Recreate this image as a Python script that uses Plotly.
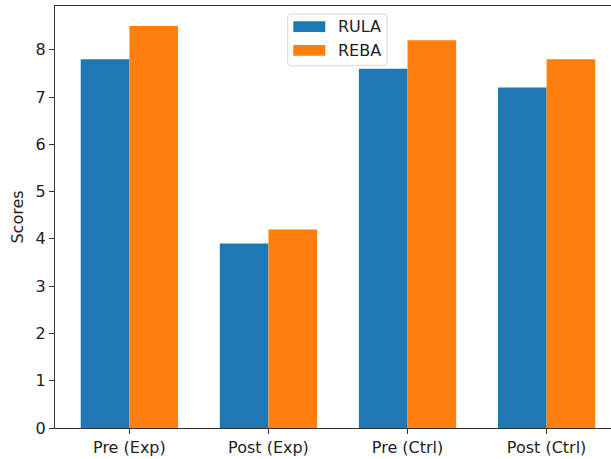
import plotly.graph_objects as go

# Posture assessment scores per group/phase
categories = ["Pre (Exp)", "Post (Exp)", "Pre (Ctrl)", "Post (Ctrl)"]
rula_scores = [7.8, 3.9, 7.6, 7.2]
reba_scores = [8.5, 4.2, 8.2, 7.8]
y_ticks = [0, 1, 2, 3, 4, 5, 6, 7, 8]

BLUE = "#1f77b4"
ORANGE = "#ff7f0e"
FONT = "DejaVu Sans"
FSIZE = 16
TXT = "#222222"
BAR_W = 0.35

# full canvas is a little wider than the visible page; the right spine sits past the edge
W, H = 621, 459
L, R, T, B = 55, 0, 6, 31
plot_w = W - L - R
plot_h = H - T - B
x_idx = list(range(len(categories)))

fig = go.Figure()
fig.add_trace(go.Bar(x=x_idx, y=rula_scores, name="RULA", width=BAR_W, offset=-BAR_W,
                     marker=dict(color=BLUE, line=dict(width=0)), showlegend=False))
fig.add_trace(go.Bar(x=x_idx, y=reba_scores, name="REBA", width=BAR_W, offset=0,
                     marker=dict(color=ORANGE, line=dict(width=0)), showlegend=False))

# matplotlib-like 5% margins on the x data span
pad = 0.05 * (len(categories) - 1 + 2 * BAR_W)
x_lo = -BAR_W - pad
x_hi = len(categories) - 1 + BAR_W + pad
y_hi = max(reba_scores + rula_scores) * 1.05

axis_col = "#333333"
fig.update_layout(
    width=W, height=H,
    margin=dict(l=L, r=R, t=T, b=B, pad=0),
    plot_bgcolor="white", paper_bgcolor="white",
    barmode="overlay",
    font=dict(family=FONT, size=FSIZE, color=TXT),
    xaxis=dict(range=[x_lo, x_hi], tickmode="array", tickvals=x_idx, ticktext=categories,
               showline=True, linecolor=axis_col, linewidth=1, mirror=True,
               ticks="outside", ticklen=5, tickcolor=axis_col, showgrid=False, zeroline=False),
    yaxis=dict(range=[0, y_hi], tickmode="array", tickvals=y_ticks,
               showline=True, linecolor=axis_col, linewidth=1, mirror=True,
               ticks="outside", ticklen=5, tickcolor=axis_col, showgrid=False, zeroline=False,
               title=dict(text="Scores", standoff=8, font=dict(size=FSIZE))),
)

# Legend box drawn in pixel positions converted to paper coordinates
def px(xp):
    return (xp - L) / plot_w

def py(yp):
    return (H - B - yp) / plot_h

def rounded_rect(x0, y0, x1, y1, r):
    return (f"M {px(x0 + r)},{py(y0)} L {px(x1 - r)},{py(y0)} Q {px(x1)},{py(y0)} {px(x1)},{py(y0 + r)} "
            f"L {px(x1)},{py(y1 - r)} Q {px(x1)},{py(y1)} {px(x1 - r)},{py(y1)} "
            f"L {px(x0 + r)},{py(y1)} Q {px(x0)},{py(y1)} {px(x0)},{py(y1 - r)} "
            f"L {px(x0)},{py(y0 + r)} Q {px(x0)},{py(y0)} {px(x0 + r)},{py(y0)} Z")

fig.add_shape(type="path", xref="paper", yref="paper",
              path=rounded_rect(287.7, 14, 387, 65.7, 3),
              fillcolor="rgba(255,255,255,0.8)", line=dict(color="#d6d6d6", width=1))
legend_items = [("RULA", BLUE, 21.3, 32.0), ("REBA", ORANGE, 45.0, 55.7)]
for label, col, y0, y1 in legend_items:
    fig.add_shape(type="rect", xref="paper", yref="paper",
                  x0=px(293.3), x1=px(325.3), y0=py(y1), y1=py(y0),
                  fillcolor=col, line=dict(width=0))
    fig.add_annotation(xref="paper", yref="paper", x=px(336), y=py((y0 + y1) / 2),
                       text=label, showarrow=False, xanchor="left", yanchor="middle",
                       font=dict(family=FONT, size=FSIZE, color=TXT))

# keep the page free of scrollbars
fig.write_html("out.html", post_script="document.documentElement.style.overflow='hidden';"
                                       "document.body.style.overflow='hidden';")
